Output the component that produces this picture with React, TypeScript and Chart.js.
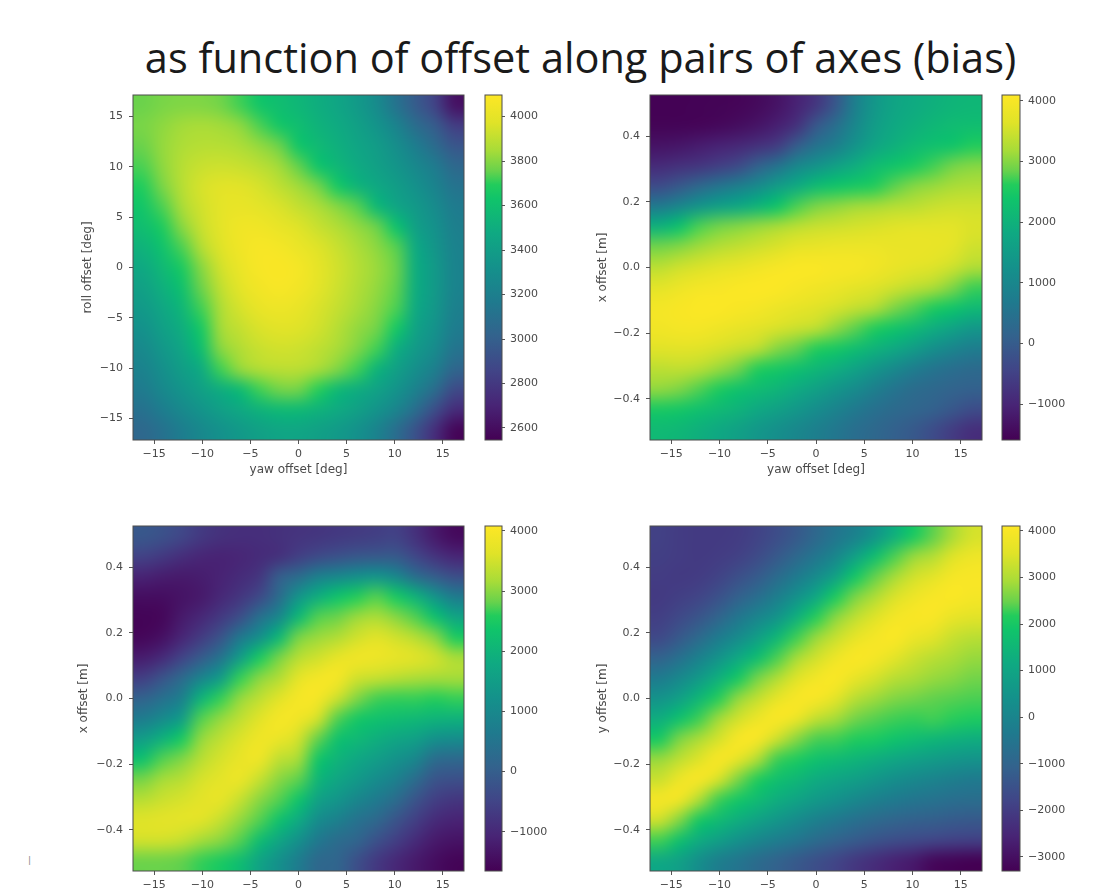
import React, { useEffect, useRef } from "react";
import { Chart, registerables } from "chart.js";

Chart.register(...registerables);

const titleText = "as function of offset along pairs of axes (bias)";

const yawAxisTicks = [-15, -10, -5, 0, 5, 10, 15];
const offsetAxisTicks = [-0.4, -0.2, 0.0, 0.2, 0.4];

const yawCenters = [-16.2, -14.2, -12.1, -10.1, -8.1, -6.1, -4, -2, 0, 2, 4, 6.1, 8.1, 10.1, 12.1, 14.2, 16.2];
const rollCenters = [16.2, 14.2, 12.1, 10.1, 8.1, 6.1, 4, 2, 0, -2, -4, -6.1, -8.1, -10.1, -12.1, -14.2, -16.2];
const offsetCenters = [0.494, 0.432, 0.37, 0.309, 0.247, 0.185, 0.124, 0.062, 0, -0.062, -0.124, -0.185, -0.247, -0.309, -0.37, -0.432, -0.494];

const rollYawValues = [
  [3760,3780,3790,3790,3770,3720,3640,3590,3550,3500,3450,3380,3280,3120,2980,2850,2620],
  [3780,3810,3840,3850,3840,3810,3730,3650,3590,3530,3480,3420,3340,3230,3080,2980,2820],
  [3760,3820,3860,3880,3880,3860,3820,3760,3640,3570,3510,3450,3390,3300,3190,3070,2950],
  [3730,3810,3880,3920,3930,3920,3890,3840,3750,3630,3550,3480,3420,3350,3260,3170,3050],
  [3690,3780,3880,3950,3980,3980,3950,3900,3840,3770,3660,3540,3470,3400,3320,3230,3120],
  [3640,3730,3850,3940,3990,4010,3990,3960,3910,3860,3800,3740,3570,3450,3370,3280,3170],
  [3590,3680,3800,3920,3990,4040,4040,4010,3970,3920,3870,3820,3760,3620,3420,3320,3200],
  [3530,3620,3730,3870,3970,4040,4070,4060,4020,3970,3920,3860,3810,3740,3480,3350,3220],
  [3470,3560,3670,3800,3940,4020,4070,4080,4060,4000,3940,3880,3830,3760,3500,3370,3230],
  [3420,3510,3610,3760,3900,3990,4050,4070,4050,3990,3930,3870,3820,3750,3500,3370,3230],
  [3370,3460,3550,3720,3860,3950,4010,4030,4010,3960,3910,3850,3800,3730,3480,3360,3210],
  [3320,3410,3500,3660,3840,3910,3960,3980,3970,3940,3880,3820,3770,3660,3440,3330,3180],
  [3270,3360,3450,3600,3800,3870,3920,3940,3930,3900,3850,3790,3720,3510,3380,3280,3130],
  [3220,3310,3400,3490,3720,3820,3870,3890,3890,3850,3790,3720,3540,3420,3310,3200,3040],
  [3170,3260,3340,3420,3500,3580,3720,3770,3770,3700,3570,3500,3430,3340,3220,3080,2890],
  [3110,3190,3270,3340,3410,3470,3530,3570,3570,3530,3480,3420,3340,3240,3090,2910,2740],
  [3050,3110,3190,3260,3320,3370,3420,3450,3450,3420,3380,3320,3230,3090,2930,2750,2570],
];

const xYawValuesTop = [
  [-1580,-1570,-1560,-1550,-1520,-1450,-1300,-1050,-700,-100,800,1400,1700,1850,1950,2050,2100],
  [-1550,-1540,-1520,-1480,-1400,-1280,-1100,-800,-100,400,1000,1500,1800,1950,2100,2200,2250],
  [-1300,-1250,-1150,-1050,-950,-800,-600,0,500,800,1300,1700,1950,2150,2300,2400,2600],
  [-900,-800,-700,-550,-350,100,500,1000,1300,1600,1900,2200,2400,2550,2720,2900,3000],
  [-300,-50,250,550,800,1100,1500,1850,2200,2400,2500,2620,2800,3000,3100,3200,3250],
  [700,1000,1350,1600,1800,2050,2400,2750,2950,3050,3150,3200,3300,3350,3450,3500,3500],
  [2000,2350,2750,2900,3000,3100,3200,3350,3450,3500,3550,3600,3650,3700,3700,3700,3600],
  [2900,3000,3150,3300,3400,3500,3600,3750,3800,3850,3850,3850,3800,3800,3780,3700,3500],
  [3350,3500,3600,3700,3800,3900,4000,4050,4050,4000,3980,3900,3800,3700,3620,3480,3250],
  [3700,3850,3950,4000,4050,4080,4070,3980,3900,3820,3720,3620,3500,3350,3200,2950,2700],
  [3950,4020,4060,4070,4020,3950,3850,3750,3650,3550,3400,3250,2950,2760,2560,2380,2150],
  [3900,3950,3950,3880,3780,3680,3570,3470,3350,3050,2800,2600,2400,2150,1900,1650,1400],
  [3650,3680,3650,3570,3470,3330,3000,2820,2620,2480,2250,2000,1800,1500,1200,950,750],
  [3350,3380,3300,3100,2880,2620,2480,2300,2100,1900,1650,1350,1050,750,550,400,300],
  [3050,2950,2760,2560,2350,2200,2050,1850,1600,1350,1100,800,550,350,250,150,100],
  [2500,2450,2300,2150,2000,1800,1600,1400,1150,900,650,450,300,200,100,-100,-300],
  [2150,2100,1950,1800,1600,1400,1200,1000,800,600,400,250,100,-50,-300,-600,-850],
];

const xYawValuesBottom = [
  [-150,-250,-450,-700,-850,-900,-900,-850,-800,-750,-700,-650,-600,-550,-850,-1250,-1500],
  [-550,-700,-900,-1050,-1100,-1050,-950,-850,-600,-400,-250,-150,-100,-100,-450,-800,-1050],
  [-1100,-1200,-1250,-1200,-1100,-950,-750,0,300,800,1000,1200,1300,1000,350,0,-300],
  [-1450,-1450,-1350,-1250,-1000,-750,-400,300,1300,1900,2350,2600,2750,2500,2000,1300,700],
  [-1600,-1550,-1250,-1000,-700,-300,400,1000,2100,2750,2850,3100,3200,3000,2750,2300,1700],
  [-1550,-1400,-1050,-650,-200,600,1200,2100,2900,3100,3250,3500,3650,3500,3300,3000,2550],
  [-1200,-950,-500,-50,500,1500,2500,2900,3300,3500,3750,3900,3850,3750,3650,3500,3200],
  [-600,-200,250,900,1500,2650,3000,3250,3700,3950,3950,3500,3400,3300,3200,3150,3150],
  [100,400,800,2000,2650,3050,3350,3650,3980,3950,3450,2950,2700,2650,2650,2600,2650],
  [700,1050,1500,2750,3050,3350,3650,3950,3900,3500,2750,2450,2300,2200,2100,2000,1950],
  [1500,1950,2500,3050,3350,3600,3880,3800,3500,2800,2300,2100,1900,1700,1550,1200,1100],
  [2300,2750,2950,3300,3550,3780,3850,3350,3150,2400,2000,1750,1500,1250,950,300,200],
  [2900,3150,3300,3550,3700,3800,3400,3000,2780,2050,1700,1400,1100,800,300,-200,-300],
  [3300,3450,3550,3680,3730,3400,3000,2750,2350,1600,1300,950,650,300,-200,-600,-750],
  [3630,3680,3700,3650,3400,3050,2750,2300,1800,1100,800,450,200,-200,-600,-950,-1100],
  [3500,3500,3400,3150,3000,2750,2200,1700,1200,600,300,150,-250,-600,-950,-1250,-1350],
  [2850,2850,2800,2650,2500,2200,1650,1200,700,200,150,-300,-700,-1000,-1250,-1450,-1600],
];

const yYawValues = [
  [-1900,-2000,-2050,-2050,-2000,-1850,-1600,-1300,-900,-500,-100,500,1300,2050,2450,2950,3400],
  [-1950,-2000,-2050,-2000,-1900,-1650,-1300,-900,-450,50,850,1700,2350,2800,3050,3500,3800],
  [-2000,-2050,-2000,-1850,-1550,-1250,-800,-350,200,900,1950,2450,2900,3350,3600,3950,4000],
  [-2050,-1950,-1800,-1500,-1100,-700,-200,400,1100,2100,2600,3000,3450,3800,4000,4050,3950],
  [-1950,-1700,-1400,-1000,-450,0,500,1300,2200,2700,3150,3500,3900,4030,4000,3700,3550],
  [-1700,-1300,-850,-300,200,800,1500,2300,2800,3250,3650,3950,4050,3750,3550,3250,3100],
  [-1050,-650,-100,450,1100,1700,2350,2900,3350,3800,4050,3950,3600,3300,3100,2950,2800],
  [-300,100,650,1300,2000,2550,3000,3500,3900,4050,3700,3400,3100,2950,2800,2700,2550],
  [450,850,1500,2200,2750,3200,3650,4000,4000,3600,3100,2850,2650,2550,2450,2400,2350],
  [1250,1800,2300,2850,3350,3800,4050,3750,3200,2900,2550,2400,2300,2250,2300,2200,2100],
  [2050,2600,2950,3400,4000,4000,3300,2700,2350,2300,2150,2050,1850,1650,1500,1350,1250],
  [2800,3150,3500,4020,3650,3000,2300,2100,1800,1600,1450,1250,1050,850,700,550,450],
  [3300,3800,4000,3400,2600,2150,1750,1500,1200,1000,800,550,300,100,-50,-200,-350],
  [3950,3850,3000,2300,1950,1600,1250,950,650,400,100,-150,-350,-500,-600,-700,-750],
  [3300,2650,2000,1600,1250,900,550,200,-150,-400,-650,-850,-1000,-1100,-1150,-1250,-1300],
  [2300,1750,1200,800,400,50,-250,-500,-800,-1050,-1250,-1450,-1600,-1700,-1800,-1900,-1950],
  [1100,850,300,-200,-500,-800,-1050,-1300,-1550,-1800,-2100,-2350,-2600,-2800,-3150,-3250,-3300],
];

const colorStops: [number, string][] = [
  [0, "#440154"], [0.1, "#482475"], [0.2, "#414487"], [0.3, "#33628d"], [0.4, "#1f7a8e"],
  [0.5, "#14918b"], [0.6, "#0fa982"], [0.7, "#10c46a"], [0.74, "#22cc5c"], [0.78, "#68d24c"],
  [0.84, "#a8dc38"], [0.92, "#e0e328"], [1, "#fde725"],
];

const hexToRgb = (h: string) => [1, 3, 5].map((i) => parseInt(h.slice(i, i + 2), 16));
function colormap(t: number) {
  const v = Math.min(1, Math.max(0, t));
  for (let i = 1; i < colorStops.length; i++) {
    if (v <= colorStops[i][0]) {
      const [a, ca] = colorStops[i - 1];
      const [b, cb] = colorStops[i];
      const f = (v - a) / (b - a);
      const A = hexToRgb(ca);
      const B = hexToRgb(cb);
      return `rgb(${A.map((c, k) => Math.round(c + (B[k] - c) * f)).join(",")})`;
    }
  }
  return colorStops[colorStops.length - 1][1];
}

const FONT = "'DejaVu Sans'";
const TEXT = "#4a4a4a";
const minus = (s: string) => s.replace("-", "\u2212");

const framePlugin = {
  id: "frame",
  afterDraw(chart: any) {
    const { left, top, width, height } = chart.chartArea;
    const c = chart.ctx;
    c.save();
    c.strokeStyle = "#4d4d4d";
    c.lineWidth = 1;
    c.strokeRect(left, top, width, height);
    c.restore();
  },
};

// The cells are drawn by the scatter dataset; this softens their edges the way the blurred source does.
const softenPlugin = {
  id: "soften",
  afterDatasetsDraw(chart: any) {
    const { left, top, width, height } = chart.chartArea;
    const n = yawCenters.length;
    const off = document.createElement("canvas");
    off.width = n;
    off.height = n;
    const o = off.getContext("2d")!;
    o.imageSmoothingEnabled = false;
    o.drawImage(chart.canvas, left, top, width, height, 0, 0, n, n);
    const c = chart.ctx;
    c.save();
    c.imageSmoothingEnabled = true;
    c.imageSmoothingQuality = "high";
    c.drawImage(off, 0, 0, n, n, left, top, width, height);
    c.restore();
  },
};

type Panel = {
  values: number[][];
  rows: number[];
  rowTicks: number[];
  yMax: number;
  yTitle: string;
  xTitle?: string;
  plot: [number, number, number, number];
  axisW: number;
  barX: [number, number];
  vmin: number;
  vmax: number;
  barTicks: number[];
  fmt: (v: number) => string;
};

const panels: Panel[] = [
  { values: rollYawValues, rows: rollCenters, rowTicks: yawAxisTicks, yMax: 17.13, yTitle: "roll offset [deg]", xTitle: "yaw offset [deg]",
    plot: [133, 95, 464, 440], axisW: 56, barX: [485, 502], vmin: 2546, vmax: 4097, barTicks: [2600, 2800, 3000, 3200, 3400, 3600, 3800, 4000], fmt: (v) => String(v) },
  { values: xYawValuesTop, rows: offsetCenters, rowTicks: offsetAxisTicks, yMax: 0.525, yTitle: "x offset [m]", xTitle: "yaw offset [deg]",
    plot: [650, 95, 982, 440], axisW: 58, barX: [1002, 1020], vmin: -1593, vmax: 4094, barTicks: [-1000, 0, 1000, 2000, 3000, 4000], fmt: (v) => v.toFixed(1) },
  { values: xYawValuesBottom, rows: offsetCenters, rowTicks: offsetAxisTicks, yMax: 0.525, yTitle: "x offset [m]",
    plot: [133, 526, 464, 871], axisW: 60, barX: [485, 502], vmin: -1653, vmax: 4083, barTicks: [-1000, 0, 1000, 2000, 3000, 4000], fmt: (v) => v.toFixed(1) },
  { values: yYawValues, rows: offsetCenters, rowTicks: offsetAxisTicks, yMax: 0.525, yTitle: "y offset [m]",
    plot: [650, 526, 982, 871], axisW: 58, barX: [1002, 1020], vmin: -3307, vmax: 4107, barTicks: [-3000, -2000, -1000, 0, 1000, 2000, 3000, 4000], fmt: (v) => v.toFixed(1) },
];

const PAD = 4;
const noScalePadding = (s: any) => {
  s.paddingTop = 0;
  s.paddingBottom = 0;
  s.paddingLeft = 0;
  s.paddingRight = 0;
};

function heatChart(canvas: HTMLCanvasElement, p: Panel) {
  const bottomH = p.xTitle ? 41 : 22;
  const points: { x: number; y: number }[] = [];
  const cols: string[] = [];
  p.values.forEach((row, r) =>
    row.forEach((v, c) => {
      points.push({ x: yawCenters[c], y: p.rows[r] });
      cols.push(colormap((v - p.vmin) / (p.vmax - p.vmin)));
    })
  );
  const tickFont = { family: FONT, size: 11 };
  const titleFont = { family: FONT, size: 12 };
  return new Chart(canvas, {
    type: "scatter",
    data: {
      datasets: [
        {
          data: points,
          pointStyle: "rect",
          pointRadius: 20,
          pointBorderWidth: 0,
          pointBackgroundColor: cols,
          clip: 0,
        } as any,
      ],
    },
    options: {
      animation: false,
      responsive: false,
      events: [],
      layout: { autoPadding: false, padding: { top: PAD, right: PAD, left: 0, bottom: 0 } },
      plugins: { legend: { display: false }, tooltip: { enabled: false }, title: { display: false } },
      scales: {
        x: {
          type: "linear",
          min: -17.2,
          max: 17.2,
          afterBuildTicks: (s: any) => { s.ticks = yawAxisTicks.map((value) => ({ value })); },
          afterFit: (s: any) => { s.height = bottomH; noScalePadding(s); },
          grid: { drawOnChartArea: false, drawTicks: true, tickLength: 4, tickColor: "#555" },
          border: { display: false },
          ticks: { autoSkip: false, maxRotation: 0, padding: 4, color: TEXT, font: tickFont, callback: (v: any) => minus(String(v)) },
          title: p.xTitle ? { display: true, text: p.xTitle, color: TEXT, font: titleFont } : { display: false },
        },
        y: {
          type: "linear",
          min: -p.yMax,
          max: p.yMax,
          afterBuildTicks: (s: any) => { s.ticks = p.rowTicks.map((value) => ({ value })); },
          afterFit: (s: any) => { s.width = p.axisW; noScalePadding(s); },
          grid: { drawOnChartArea: false, drawTicks: true, tickLength: 4, tickColor: "#555" },
          border: { display: false },
          ticks: { autoSkip: false, padding: 6, color: TEXT, font: tickFont, callback: (v: any) => minus(p.fmt(Number(v))) },
          title: { display: true, text: p.yTitle, color: TEXT, font: titleFont },
        },
      },
    } as any,
    plugins: [softenPlugin, framePlugin],
  });
}

function barChart(canvas: HTMLCanvasElement, p: Panel) {
  const [b0, b1] = p.barX;
  const axisW = canvas.width - (b1 - b0) - 1;
  return new Chart(canvas, {
    type: "bar",
    data: {
      labels: [""],
      datasets: [
        {
          data: [[p.vmin, p.vmax]],
          barPercentage: 1,
          categoryPercentage: 1,
          borderWidth: 0,
          backgroundColor: (ctx: any) => {
            const a = ctx.chart.chartArea;
            if (!a) return "#21918c";
            const g = ctx.chart.ctx.createLinearGradient(0, a.bottom, 0, a.top);
            colorStops.forEach(([s, c]) => g.addColorStop(s, c));
            return g;
          },
        } as any,
      ],
    },
    options: {
      animation: false,
      responsive: false,
      events: [],
      layout: { autoPadding: false, padding: { top: PAD, bottom: PAD, left: 1, right: 0 } },
      plugins: { legend: { display: false }, tooltip: { enabled: false }, title: { display: false } },
      scales: {
        x: { display: false, type: "category" },
        y: {
          type: "linear",
          position: "right",
          min: p.vmin,
          max: p.vmax,
          afterBuildTicks: (s: any) => { s.ticks = p.barTicks.map((value) => ({ value })); },
          afterFit: (s: any) => { s.width = axisW; noScalePadding(s); },
          grid: { drawOnChartArea: false, drawTicks: true, tickLength: 3, tickColor: "#555" },
          border: { display: false },
          ticks: { autoSkip: false, padding: 5, color: TEXT, font: { family: FONT, size: 11 }, callback: (v: any) => minus(String(v)) },
        },
      },
    } as any,
    plugins: [framePlugin],
  });
}

export default function App() {
  const heatRefs = useRef<(HTMLCanvasElement | null)[]>([]);
  const barRefs = useRef<(HTMLCanvasElement | null)[]>([]);
  useEffect(() => {
    const charts: Chart[] = [];
    panels.forEach((p, i) => {
      charts.push(heatChart(heatRefs.current[i]!, p));
      charts.push(barChart(barRefs.current[i]!, p));
    });
    return () => charts.forEach((c) => c.destroy());
  }, []);

  const canvasStyle: React.CSSProperties = { position: "absolute", filter: "blur(0.45px)" };
  return (
    <div style={{ position: "absolute", left: 0, top: 0, width: 1094, height: 893, overflow: "hidden", background: "#fff" }}>
      <div
        style={{
          position: "absolute", left: 0, top: 29, width: 1161, textAlign: "center",
          fontFamily: "'Open Sans'", fontSize: 41.5, lineHeight: "56px", color: "#1a1a1a", whiteSpace: "nowrap",
        }}
      >
        {titleText}
      </div>
      <div style={{ position: "absolute", left: 28, top: 855, fontFamily: FONT, fontSize: 9, color: "#888" }}>|</div>
      {panels.map((p, i) => {
        const [L, T, R, B] = p.plot;
        const bottomH = p.xTitle ? 41 : 22;
        return (
          <React.Fragment key={i}>
            <canvas
              ref={(el) => { heatRefs.current[i] = el; }}
              width={R - L + p.axisW + PAD}
              height={B - T + PAD + bottomH}
              style={{ ...canvasStyle, left: L - p.axisW, top: T - PAD }}
            />
            <canvas
              ref={(el) => { barRefs.current[i] = el; }}
              width={72}
              height={B - T + 2 * PAD}
              style={{ ...canvasStyle, left: p.barX[0] - 1, top: T - PAD }}
            />
          </React.Fragment>
        );
      })}
    </div>
  );
}
